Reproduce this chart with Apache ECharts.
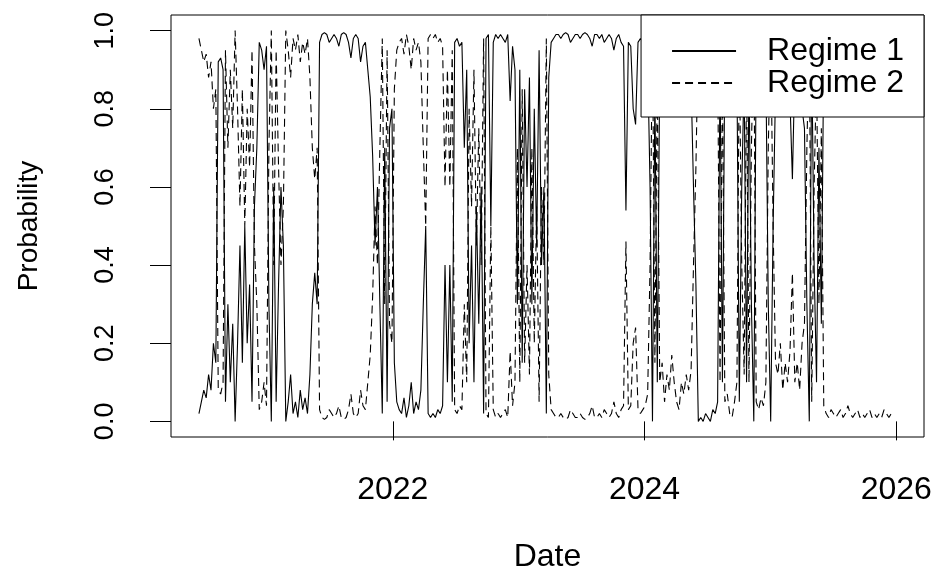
<!DOCTYPE html>
<html>
<head>
<meta charset="utf-8">
<script src="https://cdn.jsdelivr.net/npm/echarts@6/dist/echarts.min.js"></script>
<style>
  html, body { margin: 0; padding: 0; background: #fff; }
  #main { width: 936px; height: 571px; }
</style>
</head>
<body>
<div id="main"></div>
<script>
// weekly smoothed probabilities, first week mid June 2020
var startYear = 2020.46;

var regime1 = [
  0.02, 0.05, 0.08, 0.06, 0.12, 0.08, 0.2, 0.15, 0.92, 0.93,
  0.9, 0.05, 0.3, 0.1, 0.25, 0.0, 0.2, 0.45, 0.15, 0.5,
  0.2, 0.35, 0.05, 0.55, 0.7, 0.97, 0.95, 0.9, 0.96, 0.3,
  0.0, 0.6, 0.05, 0.35, 0.6, 0.45, 0.0, 0.05, 0.12, 0.02,
  0.05, 0.01, 0.08, 0.03, 0.06, 0.02, 0.12, 0.3, 0.38, 0.3,
  0.97, 0.99, 0.995, 0.99, 0.97, 0.98, 0.99, 0.98, 0.96, 0.99,
  0.995, 0.99, 0.97, 0.93, 0.98, 0.99, 0.98, 0.92, 0.96, 0.97,
  0.9, 0.83, 0.68, 0.45, 0.6, 0.3, 0.02, 0.7, 0.05, 0.75,
  0.8, 0.15, 0.05, 0.03, 0.02, 0.06, 0.01, 0.04, 0.1, 0.02,
  0.05, 0.03, 0.08, 0.3, 0.5, 0.02, 0.01, 0.02, 0.01, 0.03,
  0.02, 0.04, 0.4, 0.1, 0.4, 0.05, 0.97, 0.98, 0.96, 0.97,
  0.7, 0.9, 0.2, 0.45, 0.1, 0.55, 0.25, 0.6, 0.02, 0.98,
  0.99, 0.5, 0.97, 0.99, 0.98, 0.99, 0.98, 0.97, 0.99, 0.82,
  0.96, 0.9, 0.3, 0.9, 0.15, 0.85, 0.6, 0.88, 0.3, 0.8,
  0.45, 0.95, 0.4, 0.6, 0.02, 0.88, 0.97, 0.98, 0.99, 0.99,
  0.98, 0.99, 0.995, 0.99, 0.97, 0.98, 0.99, 0.99, 0.98, 0.99,
  0.995, 0.99, 0.98, 0.96, 0.99, 0.99, 0.98, 0.99, 0.97, 0.98,
  0.99, 0.98, 0.95, 0.98, 0.99, 0.97, 0.96, 0.54, 0.97, 0.96,
  0.8, 0.76, 0.97, 0.98, 0.97, 0.96, 0.93, 0.6, 0.0, 0.85,
  0.1, 0.9, 0.85, 0.95, 0.88, 0.92, 0.83, 0.9, 0.95, 0.97,
  0.9, 0.93, 0.88, 0.92, 0.87, 0.6, 0.35, 0.0, 0.01, 0.0,
  0.02, 0.01, 0.0, 0.03, 0.02, 0.05, 0.9, 0.1, 0.95, 0.93,
  0.98, 0.99, 0.95, 0.9, 0.05, 0.6, 0.88, 0.1, 0.9, 0.3,
  0.0, 0.95, 0.97, 0.94, 0.96, 0.9, 0.3, 0.0, 0.5, 0.85,
  0.88, 0.8, 0.92, 0.85, 0.9, 0.82, 0.62, 0.9, 0.85, 0.92,
  0.8, 0.75, 0.3, 0.0, 0.95, 0.4, 0.1, 0.7, 0.25, 0.96,
  0.98, 0.99, 0.97, 0.98, 0.99, 0.98, 0.97, 0.99, 0.98, 0.96,
  0.98, 0.99, 0.98, 0.97, 0.99, 0.98, 0.99, 0.98, 0.97, 0.99,
  0.98, 0.99, 0.98, 0.99, 0.97, 0.98, 0.99, 0.98, 0.98
];

var regime2 = [
  0.98, 0.95, 0.92, 0.94, 0.88, 0.92, 0.8, 0.85, 0.08, 0.07,
  0.1, 0.95, 0.7, 0.9, 0.75, 1.0, 0.8, 0.55, 0.85, 0.5,
  0.8, 0.65, 0.95, 0.45, 0.3, 0.03, 0.05, 0.1, 0.04, 0.7,
  1.0, 0.4, 0.95, 0.65, 0.4, 0.55, 1.0, 0.95, 0.88, 0.98,
  0.95, 0.99, 0.92, 0.97, 0.94, 0.98, 0.88, 0.7, 0.62, 0.7,
  0.03, 0.01, 0.005, 0.01, 0.03, 0.02, 0.01, 0.02, 0.04, 0.01,
  0.005, 0.01, 0.03, 0.07, 0.02, 0.01, 0.02, 0.08, 0.04, 0.03,
  0.1, 0.17, 0.32, 0.55, 0.4, 0.7, 0.98, 0.3, 0.95, 0.25,
  0.2, 0.85, 0.95, 0.97, 0.98, 0.94, 0.99, 0.96, 0.9, 0.98,
  0.95, 0.97, 0.92, 0.7, 0.5, 0.98, 0.99, 0.98, 0.99, 0.97,
  0.98, 0.96, 0.6, 0.9, 0.6, 0.95, 0.03, 0.02, 0.04, 0.03,
  0.3, 0.1, 0.8, 0.55, 0.9, 0.45, 0.75, 0.4, 0.98, 0.02,
  0.01, 0.5, 0.03, 0.01, 0.02, 0.01, 0.02, 0.03, 0.01, 0.18,
  0.04, 0.1, 0.7, 0.1, 0.85, 0.15, 0.4, 0.12, 0.7, 0.2,
  0.55, 0.05, 0.6, 0.4, 0.98, 0.12, 0.03, 0.02, 0.01, 0.01,
  0.02, 0.01, 0.005, 0.01, 0.03, 0.02, 0.01, 0.01, 0.02, 0.01,
  0.005, 0.01, 0.02, 0.04, 0.01, 0.01, 0.02, 0.01, 0.03, 0.02,
  0.01, 0.02, 0.05, 0.02, 0.01, 0.03, 0.04, 0.46, 0.03, 0.04,
  0.2, 0.24, 0.03, 0.02, 0.03, 0.04, 0.07, 0.4, 1.0, 0.15,
  0.9, 0.1, 0.15, 0.05, 0.12, 0.08, 0.17, 0.1, 0.05, 0.03,
  0.1, 0.07, 0.12, 0.08, 0.13, 0.4, 0.65, 1.0, 0.99, 1.0,
  0.98, 0.99, 1.0, 0.97, 0.98, 0.95, 0.1, 0.9, 0.05, 0.07,
  0.02, 0.01, 0.05, 0.1, 0.95, 0.4, 0.12, 0.9, 0.1, 0.7,
  1.0, 0.05, 0.03, 0.06, 0.04, 0.1, 0.7, 1.0, 0.5, 0.15,
  0.12, 0.2, 0.08, 0.15, 0.1, 0.18, 0.38, 0.1, 0.15, 0.08,
  0.2, 0.25, 0.7, 1.0, 0.05, 0.6, 0.9, 0.3, 0.75, 0.04,
  0.02, 0.01, 0.03, 0.02, 0.01, 0.02, 0.03, 0.01, 0.02, 0.04,
  0.02, 0.01, 0.02, 0.03, 0.01, 0.02, 0.01, 0.02, 0.03, 0.01,
  0.02, 0.01, 0.02, 0.01, 0.03, 0.02, 0.01, 0.02, 0.02
];

var yearTicks = [2022, 2024, 2026];
var probTicks = [0, 0.2, 0.4, 0.6, 0.8, 1.0];

// decimal year of each weekly observation
var dates = regime1.map(function (_, i) { return startYear + i * 7 / 365.25; });

function pairs(vals) {
  return vals.map(function (v, i) { return [dates[i], v]; });
}

var font = '"Liberation Sans", Arial, sans-serif';

var myChart = echarts.init(document.getElementById('main'), null, { renderer: 'canvas' });

var option = {
  animation: false,
  backgroundColor: '#fff',
  textStyle: { fontFamily: font, color: '#000' },
  grid: {
    left: 171, right: 12, top: 15, bottom: 134,
    show: true, borderColor: '#000', borderWidth: 1,
    containLabel: false, outerBoundsMode: 'none'
  },
  legend: {
    orient: 'vertical',
    right: 12, top: 15,
    padding: [20, 20, 18, 30],
    itemWidth: 64, itemHeight: 14, itemGap: 0,
    borderColor: '#000', borderWidth: 1, borderRadius: 0,
    backgroundColor: '#fff',
    itemStyle: { opacity: 0 },
    textStyle: { fontSize: 32, lineHeight: 32, color: '#000', fontFamily: font, padding: [0, 0, 0, 26] },
    data: ['Regime 1', 'Regime 2']
  },
  xAxis: {
    type: 'value',
    min: 2020.238, max: 2026.22,
    name: 'Date', nameLocation: 'middle', nameGap: 104,
    nameTextStyle: { fontSize: 32, color: '#000', fontFamily: font },
    axisLine: { show: false },
    splitLine: { show: false },
    axisTick: { show: true, length: 19, customValues: yearTicks, lineStyle: { color: '#000', width: 1 } },
    axisLabel: {
      customValues: yearTicks, margin: 37, fontSize: 32, color: '#000', fontFamily: font,
      formatter: function (v) { return String(v); }
    }
  },
  yAxis: {
    type: 'value',
    min: -0.04, max: 1.04,
    name: 'Probability', nameLocation: 'middle', nameGap: 128, nameRotate: 90,
    nameTextStyle: { fontSize: 28, color: '#000', fontFamily: font },
    axisLine: { show: false },
    splitLine: { show: false },
    axisTick: { show: true, length: 21, customValues: probTicks, lineStyle: { color: '#000', width: 1 } },
    axisLabel: {
      customValues: probTicks, rotate: 90, margin: 52, fontSize: 27, color: '#000', fontFamily: font,
      formatter: function (v) { return v.toFixed(1); }
    }
  },
  series: [
    {
      name: 'Regime 1', type: 'line', data: pairs(regime1),
      symbol: 'none', showSymbol: false, silent: true,
      lineStyle: { color: '#000', width: 1.1, type: 'solid' },
      itemStyle: { color: '#000' }
    },
    {
      name: 'Regime 2', type: 'line', data: pairs(regime2),
      symbol: 'none', showSymbol: false, silent: true,
      lineStyle: { color: '#000', width: 1.1, type: [8, 5] },
      itemStyle: { color: '#000' }
    }
  ]
};

myChart.setOption(option);
</script>
</body>
</html>
